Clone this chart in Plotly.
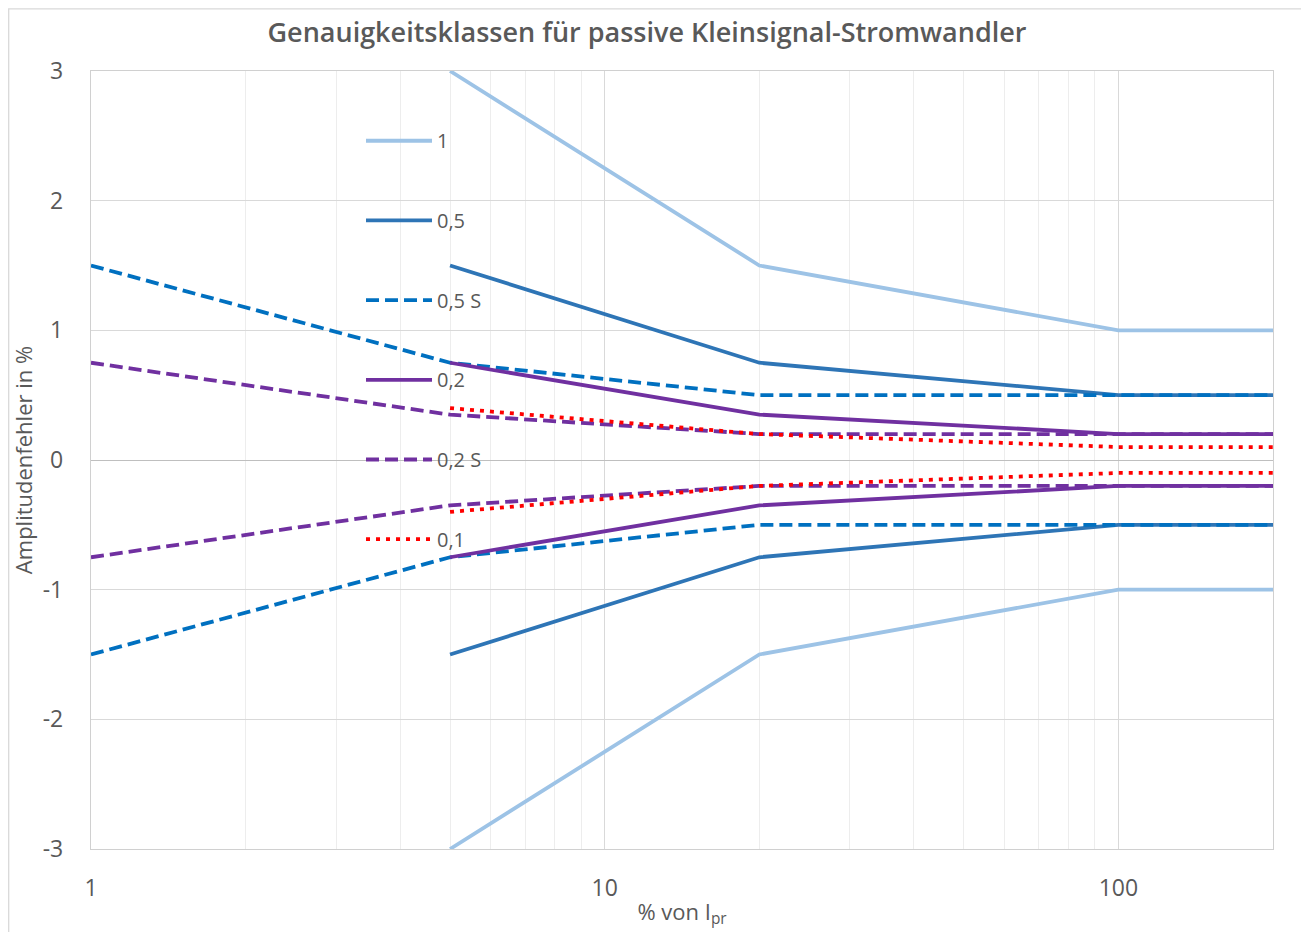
import plotly.graph_objects as go
import numpy as np

# ---- data ----
x_short = [5, 20, 100, 200]
x_long = [1, 5, 20, 100, 200]

classes = ["1", "0,5", "0,5 S", "0,2", "0,2 S", "0,1"]
x_vals = {
    "1": x_short,
    "0,5": x_short,
    "0,5 S": x_long,
    "0,2": x_short,
    "0,2 S": x_long,
    "0,1": x_short,
}
upper = {
    "1": [3, 1.5, 1, 1],
    "0,5": [1.5, 0.75, 0.5, 0.5],
    "0,5 S": [1.5, 0.75, 0.5, 0.5, 0.5],
    "0,2": [0.75, 0.35, 0.2, 0.2],
    "0,2 S": [0.75, 0.35, 0.2, 0.2, 0.2],
    "0,1": [0.4, 0.2, 0.1, 0.1],
}
lower = {k: [-v for v in vals] for k, vals in upper.items()}

x_tickvals = [1, 10, 100]
y_tickvals = [-3, -2, -1, 0, 1, 2, 3]

# ---- styles ----
styles = {
    "1": dict(color="#9DC3E6", dash="solid"),
    "0,5": dict(color="#2E75B6", dash="solid"),
    "0,5 S": dict(color="#0070C0", dash="13px,6px"),
    "0,2": dict(color="#7030A0", dash="solid"),
    "0,2 S": dict(color="#7030A0", dash="13px,6px"),
    "0,1": dict(color="#FF0000", dash="4px,6px"),
}
LW = 3.8
TXT = "#595959"
FONT = "Open Sans"

OFF = 8  # page body margin
W, H = 1309 - OFF, 932 - OFF
# plot area in screen pixels
L, R, T, B = 91, 1273, 71, 852

fig = go.Figure()
for c in classes:
    st = styles[c]
    for ys in (upper[c], lower[c]):
        fig.add_trace(go.Scatter(
            x=x_vals[c], y=ys, mode="lines", name=c, legendgroup=c,
            showlegend=False, hoverinfo="x+y+name",
            line=dict(color=st["color"], width=LW, dash=st["dash"]),
        ))

def px_to_paper_x(px):
    return (px - L) / (R - L)

def px_to_paper_y(py):
    return (B - py) / (B - T)

shapes = []
annotations = []
# manual legend
leg_y0 = 141
for i, c in enumerate(classes):
    st = styles[c]
    py = leg_y0 + 80 * i
    shapes.append(dict(
        type="line", xref="paper", yref="paper",
        x0=px_to_paper_x(366), x1=px_to_paper_x(432),
        y0=px_to_paper_y(py), y1=px_to_paper_y(py),
        line=dict(color=st["color"], width=LW, dash=st["dash"]),
    ))
    annotations.append(dict(
        text=c, xref="paper", yref="paper",
        x=px_to_paper_x(435), y=px_to_paper_y(py),
        xanchor="left", yanchor="middle", showarrow=False,
        font=dict(size=20, color=TXT, family=FONT),
    ))

# outer chart border
shapes.append(dict(
    type="rect", xref="paper", yref="paper",
    x0=px_to_paper_x(OFF + 0.7), x1=px_to_paper_x(1307.5),
    y0=px_to_paper_y(945), y1=px_to_paper_y(OFF + 0.7),
    line=dict(color="#D9D9D9", width=1.3), layer="below",
))

fig.update_layout(
    width=W, height=H,
    margin=dict(l=L - OFF, r=(1309 - OFF) - (R - OFF), t=T - OFF, b=(932 - OFF) - (B - OFF)),
    paper_bgcolor="white", plot_bgcolor="white",
    showlegend=False,
    title=dict(
        text="Genauigkeitsklassen für passive Kleinsignal-Stromwandler",
        x=(647 - OFF) / W, xanchor="center", y=1 - (33 - OFF) / H, yanchor="middle",
        font=dict(size=27, color=TXT, family=FONT, weight=600),
    ),
    font=dict(family=FONT, color=TXT),
    shapes=shapes,
    annotations=annotations,
)

fig.update_xaxes(
    type="log", range=[0, np.log10(200)],
    tickvals=x_tickvals, ticktext=[str(v) for v in x_tickvals],
    tickfont=dict(size=23, color=TXT),
    ticks="", ticklabelstandoff=18,
    showgrid=True, gridcolor="#D9D9D9", gridwidth=1,
    minor=dict(showgrid=True, gridcolor="#EDEDED", gridwidth=1, dtick="D1", ticks=""),
    showline=True, linecolor="#D0D0D0", linewidth=1.3, mirror=True,
    zeroline=False,
    title=dict(text="% von I<sub>pr</sub>", font=dict(size=22, color=TXT), standoff=2),
)
fig.update_yaxes(
    range=[-3, 3], tickvals=y_tickvals,
    ticktext=[str(v) for v in y_tickvals],
    tickfont=dict(size=23, color=TXT),
    ticks="", ticklabelstandoff=22,
    showgrid=True, gridcolor="#D9D9D9", gridwidth=1,
    zeroline=True, zerolinecolor="#BFBFBF", zerolinewidth=1.3,
    showline=True, linecolor="#D0D0D0", linewidth=1.3, mirror=True,
    title=dict(text="Amplitudenfehler in %", font=dict(size=22, color=TXT), standoff=6),
)

fig.write_html("out.html")
